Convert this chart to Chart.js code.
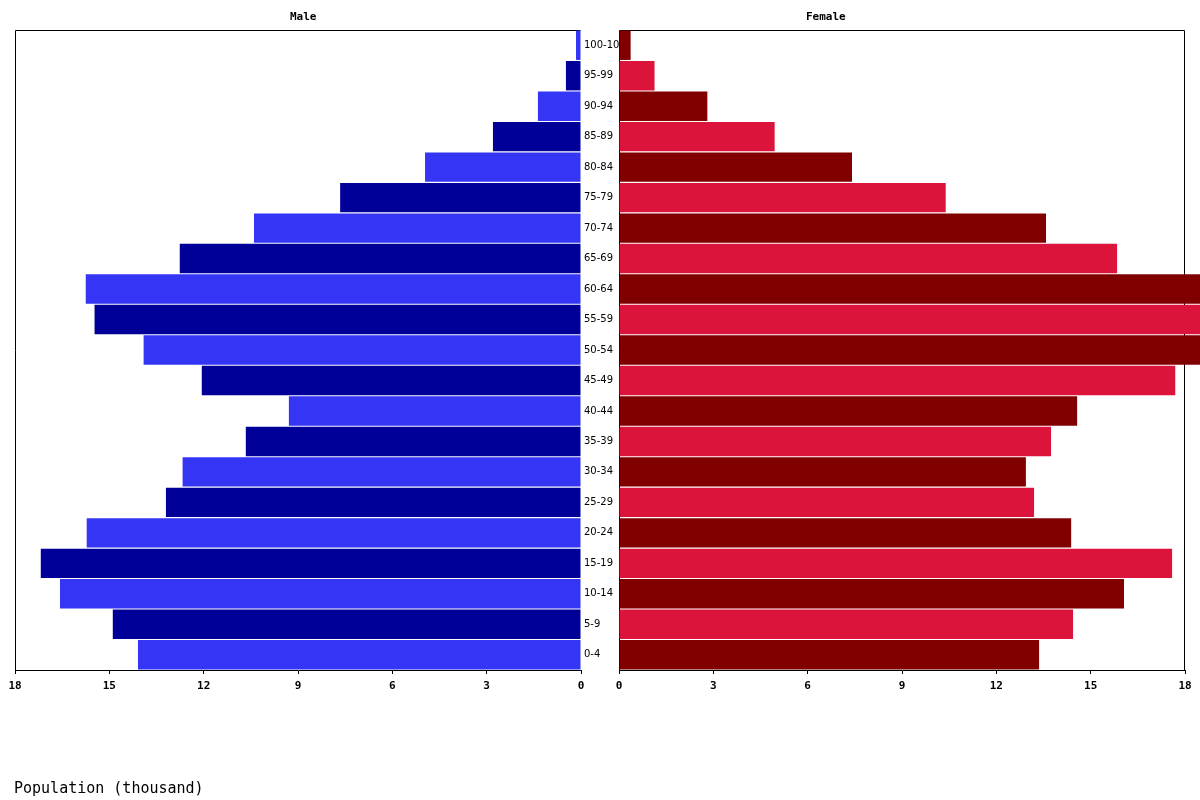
<!DOCTYPE html>
<html>
<head>
<meta charset="utf-8">
<script src="https://cdn.jsdelivr.net/npm/chart.js@4"></script>
<style>
  html, body { margin: 0; padding: 0; background: #fff; }
  #wrap { position: relative; width: 1200px; height: 800px; overflow: hidden; }
  canvas { position: absolute; top: 0; }
  #male { left: 0; }
  #female { left: 600px; }
  .ttl { position: absolute; font: bold 11px "DejaVu Sans Mono", monospace; color: #000; white-space: nowrap; }
  #t-male { left: 290px; top: 10px; }
  #t-female { left: 806px; top: 10px; }
  #t-axis { left: 14px; top: 779px; font: 15px "DejaVu Sans Mono", monospace; }
</style>
</head>
<body>
<div id="wrap">
  <canvas id="male" width="619" height="800"></canvas>
  <canvas id="female" width="600" height="800"></canvas>
  <div class="ttl" id="t-male">Male</div>
  <div class="ttl" id="t-female">Female</div>
  <div class="ttl" id="t-axis">Population (thousand)</div>
</div>
<script>
/* Population pyramid, thousands. Age groups listed youngest first. */
var AGES = ["0-4", "5-9", "10-14", "15-19", "20-24", "25-29", "30-34", "35-39",
  "40-44", "45-49", "50-54", "55-59", "60-64", "65-69", "70-74", "75-79",
  "80-84", "85-89", "90-94", "95-99", "100-104"];
var MALE = [14.09, 14.89, 16.57, 17.18, 15.72, 13.20, 12.67, 10.66, 9.29, 12.06,
  13.91, 15.47, 15.75, 12.76, 10.40, 7.66, 4.96, 2.80, 1.37, 0.48, 0.16];
var FEMALE = [13.36, 14.44, 16.06, 17.59, 14.38, 13.20, 12.94, 13.74, 14.57, 17.69,
  19.0, 19.6, 19.4, 15.84, 13.58, 10.39, 7.41, 4.95, 2.81, 1.13, 0.37];
var X_MAX = 18;
var X_STEP = 3;

var MALE_A = "#3535f5", MALE_B = "#000099";
var FEM_A = "#800000", FEM_B = "#dc143c";
var MONO = "'DejaVu Sans Mono', monospace";

function alt(a, b) {
  return AGES.map(function (_, i) { return i % 2 === 0 ? a : b; });
}

// frame round the plot area, drawn under the bars
function frame(sides) {
  return {
    id: "frame",
    beforeDatasetsDraw: function (chart) {
      var a = chart.chartArea, ctx = chart.ctx;
      var l = Math.round(a.left) + 0.5, r = Math.round(a.right) - 0.5;
      var t = Math.round(a.top) + 0.5, b = Math.round(a.bottom);
      ctx.save();
      ctx.strokeStyle = "#000";
      ctx.lineWidth = 1;
      ctx.beginPath();
      ctx.moveTo(l, b); ctx.lineTo(l, t); ctx.lineTo(r, t);
      if (sides.right) ctx.lineTo(r, b);
      ctx.stroke();
      ctx.restore();
    }
  };
}

function xScale(reverse) {
  return {
    type: "linear", min: 0, max: X_MAX, reverse: reverse,
    grid: { drawOnChartArea: false, tickLength: 4, color: "#000" },
    border: { color: "#000" },
    ticks: { stepSize: X_STEP, color: "#000", padding: 6, maxRotation: 0,
      font: { family: MONO, size: 11, weight: "bold" } },
    afterFit: function (s) { s.height = 30; }
  };
}

function barSet(label, data, colors) {
  return {
    label: label, data: data, backgroundColor: colors,
    categoryPercentage: 1, barPercentage: 0.965, clip: false
  };
}

new Chart(document.getElementById("male"), {
  type: "bar",
  data: { labels: AGES, datasets: [barSet("Male", MALE, alt(MALE_A, MALE_B))] },
  options: {
    indexAxis: "y", responsive: false, animation: false,
    layout: { padding: { left: 15, right: 0, top: 30, bottom: 100 } },
    plugins: { legend: { display: false }, tooltip: { enabled: false } },
    scales: {
      x: xScale(true),
      y: {
        position: "right", reverse: true,
        grid: { display: false, drawTicks: false, tickLength: 0 }, border: { display: false },
        ticks: { color: "#000", padding: 3, autoSkip: false,
          font: { family: "'DejaVu Sans', sans-serif", size: 10 } },
        afterFit: function (s) { s.width = 38; }
      }
    }
  },
  plugins: [frame({ right: false })]
});

new Chart(document.getElementById("female"), {
  type: "bar",
  data: { labels: AGES, datasets: [barSet("Female", FEMALE, alt(FEM_A, FEM_B))] },
  options: {
    indexAxis: "y", responsive: false, animation: false,
    layout: { padding: { left: 19, right: 15, top: 30, bottom: 100 } },
    plugins: { legend: { display: false }, tooltip: { enabled: false } },
    scales: {
      x: xScale(false),
      y: { reverse: true, display: false }
    }
  },
  plugins: [frame({ right: true })]
});
</script>
</body>
</html>
